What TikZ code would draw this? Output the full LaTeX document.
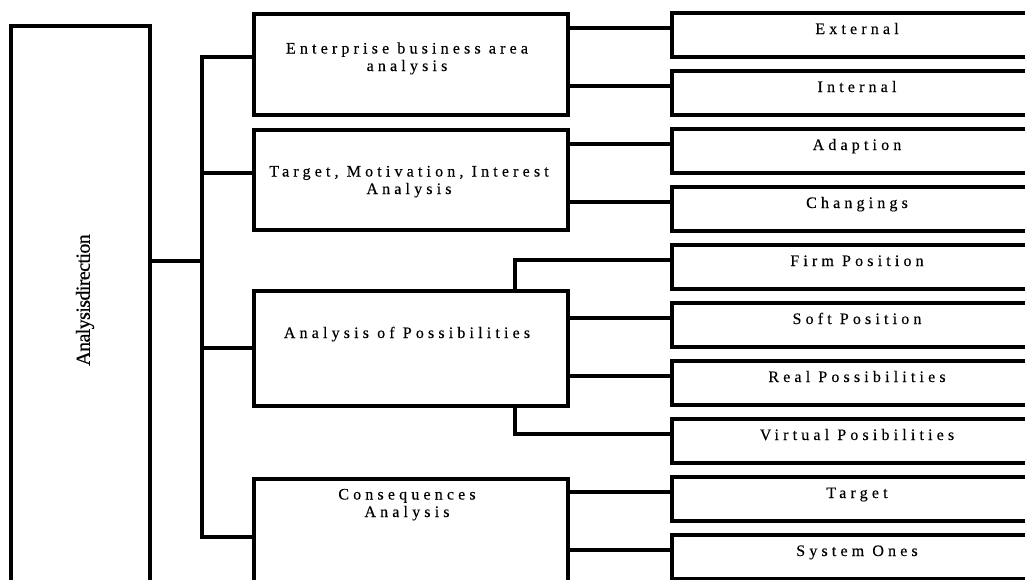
\documentclass[tikz,border=0pt]{standalone}
\usepackage{fontspec}
\setmainfont{Liberation Serif}
\newfontfamily\wsp[LetterSpace=26,FakeBold=0.3]{Liberation Serif}
\newfontfamily\nsp[LetterSpace=-3,FakeBold=0.5]{Liberation Serif}
\begin{document}
\begin{tikzpicture}[x=1pt,y=-1pt,
  box/.style={draw=black,line width=3.2pt,rectangle,inner sep=0pt,outer sep=0pt,anchor=north west},
  wire/.style={line width=3.2pt,line join=miter},
  lbl/.style={font=\wsp\fontsize{16}{17.5}\selectfont,align=center,anchor=base,inner sep=0pt,text=black}]
\useasboundingbox (0,0) rectangle (1025,579);
\clip (0,0) rectangle (1025,579);
% left box
\node[box,minimum width=139pt,minimum height=700pt] (lb) at (11,26) {};
\node[font=\nsp\fontsize{20}{22}\selectfont,rotate=90,inner sep=0pt] (lt) at (85,300) {Analysisdirection};
% middle boxes
\node[box,minimum width=314pt,minimum height=101pt] (b1) at (254,14) {};
\node[box,minimum width=314pt,minimum height=100pt] (b2) at (254,130) {};
\node[box,minimum width=314pt,minimum height=115pt] (b3) at (254,291) {};
\node[box,minimum width=314pt,minimum height=200pt] (b4) at (254,479) {};
% right boxes
\foreach \i in {1,...,10}{
  \node[box,minimum width=368pt,minimum height=44pt] (r\i) at (672,{13+58*(\i-1)}) {};
  \coordinate (c\i) at ([yshift=-15pt]r\i.north west);
}
% bus
\coordinate (k0) at (202,261);
\coordinate (k1) at (202,57);
\coordinate (k2) at (202,173);
\coordinate (k3) at (202,348);
\coordinate (k4) at (202,537);
\coordinate (bx) at (515,0);
\draw[wire] (b1.west |- k1) -- (k1) -- (k4) -- (b4.west |- k4);
\draw[wire] (lb.east |- k0) -- (k0);
\draw[wire] (k2) -- (b2.west |- k2);
\draw[wire] (k3) -- (b3.west |- k3);
% right connectors
\draw[wire] (b1.east |- c1) -- (c1);
\draw[wire] (b1.east |- c2) -- (c2);
\draw[wire] (b2.east |- c3) -- (c3);
\draw[wire] (b2.east |- c4) -- (c4);
\draw[wire] (b3.north -| bx) |- (c5);
\draw[wire] (b3.east |- c6) -- (c6);
\draw[wire] (b3.east |- c7) -- (c7);
\draw[wire] (b3.south -| bx) |- (c8);
\draw[wire] (b4.east |- c9) -- (c9);
\draw[wire] (b4.east |- c10) -- (c10);
% middle texts
\node[lbl] (t1) at (407,71) {Enterprise business area\\analysis};
\node[lbl] (t2) at (409,194) {Target, Motivation, Interest\\Analysis};
\node[lbl] (t3) at (407,338) {Analysis of Possibilities};
\node[lbl] (t4) at (407,517) {Consequences\\Analysis};
% right texts
\node[lbl] (l1) at (857,34) {External};
\node[lbl] (l2) at (857,92) {Internal};
\node[lbl] (l3) at (857,150) {Adaption};
\node[lbl] (l4) at (857,208) {Changings};
\node[lbl] (l5) at (857,266) {Firm Position};
\node[lbl] (l6) at (857,324) {Soft Position};
\node[lbl] (l7) at (857,382) {Real Possibilities};
\node[lbl] (l8) at (857,440) {Virtual Posibilities};
\node[lbl] (l9) at (857,498) {Target};
\node[lbl] (l10) at (857,556) {System Ones};
\end{tikzpicture}
\end{document}
